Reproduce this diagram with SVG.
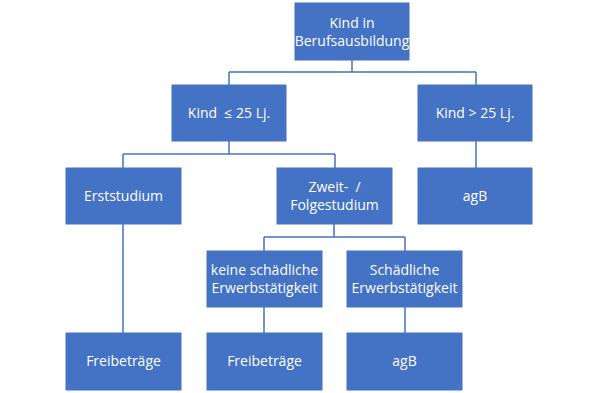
<svg xmlns="http://www.w3.org/2000/svg" width="600" height="393" viewBox="0 0 600 393">
<style>
.box{fill:#4472C4;stroke:#4472C4;stroke-width:1}
.t{fill:#fff;font-family:"Open Sans","Liberation Sans",sans-serif;font-size:14px;text-anchor:middle;white-space:pre}
.c{fill:none;stroke:#4472C4;stroke-width:1.5}
</style>
<rect width="600" height="393" fill="#fff"/>
<g id="connectors">
<path class="c" d="M352,60V72M229,72H476M229,72V85M476,72V85"/>
<path class="c" d="M229,141V154M123,154H335M123,154V168M335,154V168"/>
<path class="c" d="M476,141V168"/>
<path class="c" d="M123,224V333"/>
<path class="c" d="M334,224V237M264,237H405M264,237V251M405,237V251"/>
<path class="c" d="M264,307V333M405,307V333"/>
</g>
<g id="n1"><rect class="box" x="295" y="3" width="114" height="57"/><text class="t" x="352" y="28">Kind in</text><text class="t" x="352" y="46">Berufsausbildung</text></g>
<g id="n2"><rect class="box" x="172" y="85" width="114" height="56"/><text class="t" x="229" y="118" xml:space="preserve">Kind  ≤ 25 Lj.</text></g>
<g id="n3"><rect class="box" x="418" y="85" width="114" height="56"/><text class="t" x="475" y="118">Kind &gt; 25 Lj.</text></g>
<g id="n4"><rect class="box" x="66" y="168" width="115" height="56"/><text class="t" x="123.5" y="201">Erststudium</text></g>
<g id="n5"><rect class="box" x="277" y="168" width="115" height="56"/><text class="t" x="334.5" y="192" xml:space="preserve">Zweit-  /</text><text class="t" x="334.5" y="210">Folgestudium</text></g>
<g id="n6"><rect class="box" x="418" y="168" width="114" height="56"/><text class="t" x="475" y="201">agB</text></g>
<g id="n7"><rect class="box" x="207" y="251" width="115" height="56"/><text class="t" x="264.5" y="275">keine schädliche</text><text class="t" x="264.5" y="293">Erwerbstätigkeit</text></g>
<g id="n8"><rect class="box" x="347" y="251" width="115" height="56"/><text class="t" x="404.5" y="275">Schädliche</text><text class="t" x="404.5" y="293">Erwerbstätigkeit</text></g>
<g id="n9"><rect class="box" x="66" y="333" width="115" height="57"/><text class="t" x="123.5" y="366">Freibeträge</text></g>
<g id="n10"><rect class="box" x="207" y="333" width="115" height="57"/><text class="t" x="264.5" y="366">Freibeträge</text></g>
<g id="n11"><rect class="box" x="347" y="333" width="115" height="57"/><text class="t" x="404.5" y="366">agB</text></g>
</svg>
